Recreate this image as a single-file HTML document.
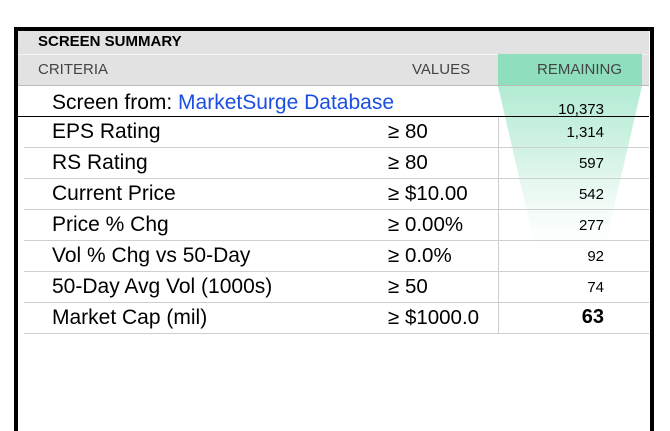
<!DOCTYPE html>
<html><head><style>
body{margin:0;width:670px;height:416px;background:#fff;position:relative;overflow:hidden;font-family:"Liberation Sans",Arial,sans-serif}
.box{position:absolute;left:14px;top:27px;width:632px;height:400px;border:4px solid #000;border-bottom:none}
.t{position:absolute;white-space:nowrap}
.row{position:absolute;left:24px;width:625px;height:0;border-top:1px solid #cfcfcf}
.lbl{position:absolute;left:52px;font-size:21px;color:#000}
.val{position:absolute;left:388px;font-size:20.5px;color:#000}
.num{position:absolute;right:66px;font-size:15px;color:#000;text-align:right}
</style></head><body>
<div class="box"></div>
<div class="t" style="left:18px;top:31px;width:631px;height:23px;background:#e2e2e2"></div>
<div class="t" style="left:18px;top:54px;width:631px;height:31px;background:#e2e2e2;border-top:1px solid #f4f4f4"></div>
<div class="t" style="left:498px;top:54px;width:144px;height:31px;background:#8fdfbe"></div>
<div class="t" style="left:18px;top:85px;width:631px;height:1px;background:#bbb"></div>
<svg class="t" style="left:0;top:0" width="670" height="416">
<defs><linearGradient id="g" x1="0" y1="0" x2="0" y2="1">
<stop offset="0" stop-color="#b2ebd3"/><stop offset="0.45" stop-color="#dbf5e9"/><stop offset="1" stop-color="#ffffff" stop-opacity="0"/></linearGradient></defs>
<polygon points="498,86 642,86 600,268 540,268" fill="url(#g)"/>
</svg>
<div class="t" style="left:38px;top:33px;font-size:15px;font-weight:bold">SCREEN SUMMARY</div>
<div class="t" style="left:38px;top:61px;font-size:15px;color:#444">CRITERIA</div>
<div class="t" style="left:412px;top:61px;font-size:15px;color:#444">VALUES</div>
<div class="t" style="left:537px;top:61px;font-size:15px;color:#444">REMAINING</div>
<div class="t" style="left:18px;top:116px;width:631px;height:1px;background:#000"></div>
<div class="t" style="left:498px;top:117px;width:1px;height:216px;background:#cfcfcf"></div>
<div class="row" style="top:147px"></div>
<div class="row" style="top:178px"></div>
<div class="row" style="top:209px"></div>
<div class="row" style="top:240px"></div>
<div class="row" style="top:271px"></div>
<div class="row" style="top:302px"></div>
<div class="row" style="top:333px"></div>
<div class="t lbl" style="top:91px">Screen from: <span style="color:#1a4fe0">MarketSurge Database</span></div>
<div class="t num" style="top:101px">10,373</div>
<div class="t lbl" style="top:120px">EPS Rating</div><div class="t val" style="top:120px">≥ 80</div><div class="t num" style="top:124px">1,314</div>
<div class="t lbl" style="top:151px">RS Rating</div><div class="t val" style="top:151px">≥ 80</div><div class="t num" style="top:155px">597</div>
<div class="t lbl" style="top:182px">Current Price</div><div class="t val" style="top:182px">≥ $10.00</div><div class="t num" style="top:186px">542</div>
<div class="t lbl" style="top:213px">Price % Chg</div><div class="t val" style="top:213px">≥ 0.00%</div><div class="t num" style="top:217px">277</div>
<div class="t lbl" style="top:244px">Vol % Chg vs 50-Day</div><div class="t val" style="top:244px">≥ 0.0%</div><div class="t num" style="top:248px">92</div>
<div class="t lbl" style="top:275px">50-Day Avg Vol (1000s)</div><div class="t val" style="top:275px">≥ 50</div><div class="t num" style="top:279px">74</div>
<div class="t lbl" style="top:306px">Market Cap (mil)</div><div class="t val" style="top:306px">≥ $1000.0</div><div class="t num" style="top:306px;font-size:20px;font-weight:bold">63</div>
</body></html>
